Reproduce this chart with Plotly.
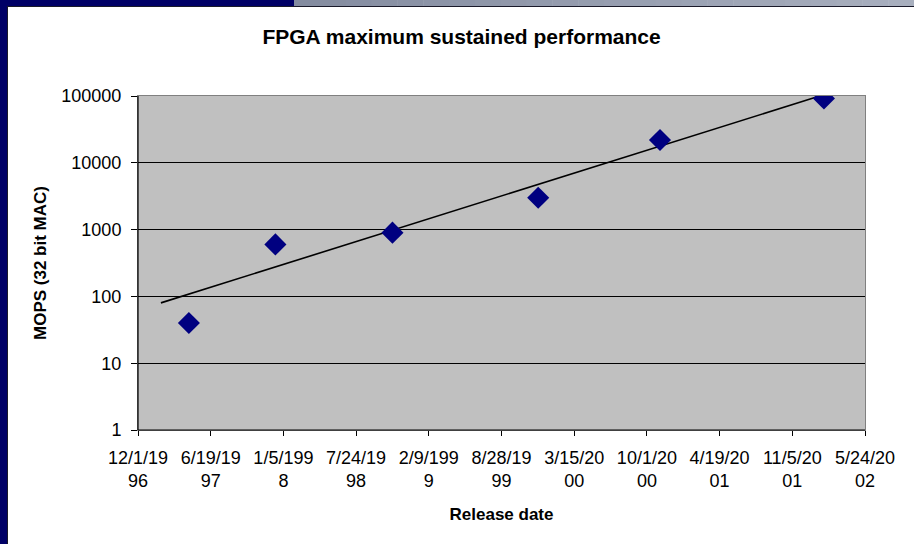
import plotly.graph_objects as go

# Release dates and sustained MOPS for each FPGA generation
release_dates = ["1997-04-20", "1997-12-14", "1998-11-01", "1999-12-07", "2000-11-06", "2002-01-31"]
mops = [40, 600, 900, 3000, 22000, 92000]

# Exponential trend line endpoints
trend_dates = ["1997-02-02", "2002-01-17"]
trend_mops = [80, 99000]

# Axis ticks
x_tickvals = ["1996-12-01", "1997-06-19", "1998-01-05", "1998-07-24", "1999-02-09", "1999-08-28",
              "2000-03-15", "2000-10-01", "2001-04-19", "2001-11-05", "2002-05-24"]
x_ticktext = ["12/1/19<br>96", "6/19/19<br>97", "1/5/199<br>8", "7/24/19<br>98", "2/9/199<br>9",
              "8/28/19<br>99", "3/15/20<br>00", "10/1/20<br>00", "4/19/20<br>01", "11/5/20<br>01",
              "5/24/20<br>02"]
y_tickvals = [1, 10, 100, 1000, 10000, 100000]
y_ticktext = ["1", "10", "100", "1000", "10000", "100000"]

FONT = "Liberation Sans, Arial, sans-serif"
W, H = 914, 544
ML, MR, MT, MB = 138, 49, 96, 114
PW, PH = W - ML - MR, H - MT - MB


def px_x(px):
    return (px - ML) / PW


def px_y(py):
    return 1 - (py - MT) / PH


fig = go.Figure()

fig.add_trace(go.Scatter(
    x=trend_dates, y=trend_mops, mode="lines",
    line=dict(color="black", width=1.6), hoverinfo="skip", showlegend=False,
))
fig.add_trace(go.Scatter(
    x=release_dates, y=mops, mode="markers",
    marker=dict(symbol="diamond", size=17, color="#000080", line=dict(width=0)),
    showlegend=False,
))

shapes = []
# black left and bottom axis lines (the mirrored axis lines are grey)
shapes.append(dict(type="line", xref="paper", yref="paper", x0=0, x1=1, y0=0, y1=0,
                   line=dict(color="black", width=1.2), layer="above"))
shapes.append(dict(type="line", xref="paper", yref="paper", x0=0, x1=0, y0=0, y1=1,
                   line=dict(color="black", width=1.2), layer="above"))

# slide frame: navy left strip and top bar with grey gradient at the right
navy = "#000066"
shapes.append(dict(type="rect", xref="paper", yref="paper", x0=px_x(0), x1=px_x(7),
                   y0=px_y(H), y1=px_y(0), fillcolor=navy, line=dict(width=0), layer="above"))
shapes.append(dict(type="rect", xref="paper", yref="paper", x0=px_x(0), x1=px_x(294),
                   y0=px_y(6), y1=px_y(0), fillcolor=navy, line=dict(width=0), layer="above"))
steps = 24
c0 = (0x84, 0x8c, 0xa0)
c1 = (0xa8, 0xaf, 0xbe)
for i in range(steps):
    t = i / (steps - 1)
    col = "rgb(%d,%d,%d)" % tuple(round(a + (b - a) * t) for a, b in zip(c0, c1))
    xa = 294 + (W - 294) * i / steps
    xb = 294 + (W - 294) * (i + 1) / steps + 0.5
    shapes.append(dict(type="rect", xref="paper", yref="paper", x0=px_x(xa), x1=px_x(xb),
                       y0=px_y(6), y1=px_y(0), fillcolor=col, line=dict(width=0), layer="above"))
shapes.append(dict(type="line", xref="paper", yref="paper", x0=px_x(7), x1=px_x(W),
                   y0=px_y(6.5), y1=px_y(6.5), line=dict(color="#1a1a2a", width=1), layer="above"))
shapes.append(dict(type="line", xref="paper", yref="paper", x0=px_x(7.5), x1=px_x(7.5),
                   y0=px_y(H), y1=px_y(6), line=dict(color="#1a1a2a", width=1), layer="above"))

fig.update_layout(
    width=W, height=H,
    margin=dict(l=ML, r=MR, t=MT, b=MB, pad=0),
    paper_bgcolor="white",
    plot_bgcolor="#C0C0C0",
    font=dict(family=FONT, size=18, color="black"),
    title=dict(text="<b>FPGA maximum sustained performance</b>", font=dict(size=21, family=FONT),
               x=0.505, xref="container", xanchor="center",
               y=1 - 37 / H, yref="container", yanchor="middle"),
    shapes=shapes,
    xaxis=dict(
        type="date", range=["1996-12-01", "2002-05-24"],
        tickvals=x_tickvals, ticktext=x_ticktext,
        ticks="outside", ticklen=5, tickcolor="black", tickwidth=1,
        showgrid=False, zeroline=False,
        showline=True, linecolor="#808080", linewidth=1, mirror=True,
        layer="below traces",
        tickfont=dict(size=18),
        ticklabelstandoff=6,
        title=dict(text="<b>Release date</b>", font=dict(size=17), standoff=18),
    ),
    yaxis=dict(
        type="log", range=[0, 5],
        tickvals=y_tickvals, ticktext=y_ticktext,
        ticks="outside", ticklen=6, tickcolor="black", tickwidth=1,
        showgrid=True, gridcolor="black", gridwidth=1,
        zeroline=False,
        showline=True, linecolor="#808080", linewidth=1, mirror=True,
        layer="below traces",
        tickfont=dict(size=18),
        ticklabelstandoff=6,
        title=dict(text="<b>MOPS (32 bit MAC)</b>", font=dict(size=17), standoff=10),
    ),
)

fig.write_html("out.html")
